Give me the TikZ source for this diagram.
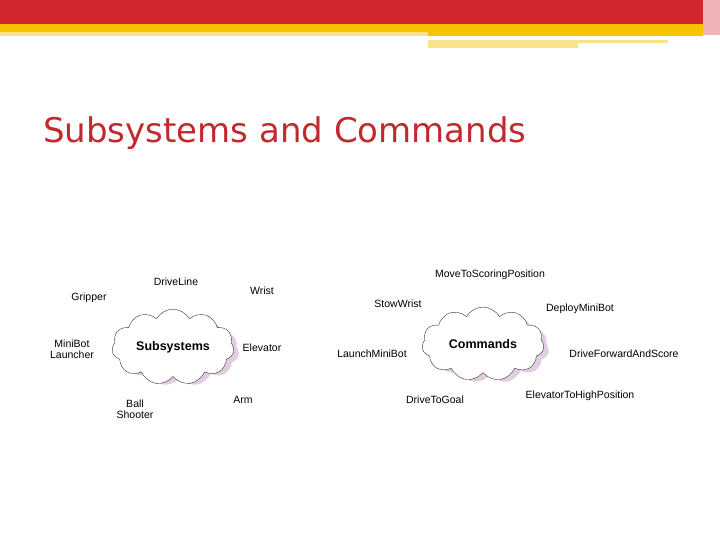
\documentclass[tikz,border=0pt]{standalone}
\usepackage{fontspec}
\setmainfont{Liberation Sans}
\newfontfamily\titlefont{DejaVu Sans}
\usetikzlibrary{shapes.symbols}
\definecolor{barred}{RGB}{210,40,45}
\definecolor{titlered}{RGB}{195,40,45}
\definecolor{baryel}{RGB}{245,195,0}
\definecolor{barlite}{RGB}{250,225,140}
\definecolor{shade}{RGB}{225,205,225}
\begin{document}
\begin{tikzpicture}[
      x=1pt, y=-1pt,
      nodes={font=\fontsize{10.5}{11.5}\selectfont, align=center, inner sep=0pt},
      puff/.style={cloud, cloud puffs=11, cloud puff arc=120, aspect=1.7,
        draw=black!80, thin, fill=white, minimum width=122pt, minimum height=74pt,
        font=\bfseries\fontsize{12.5}{15}\selectfont},
      puffshade/.style={cloud, cloud puffs=11, cloud puff arc=120, aspect=1.7,
        fill=shade, minimum width=118pt, minimum height=70pt}
      ]
  \useasboundingbox (0,0) rectangle (720,540);
  % header bars
  \fill[barred] (0,0) rectangle (703,24);
  \fill[barred!35] (703,0) rectangle (720,35);
  \fill[baryel] (0,24) rectangle (703,32);
  \fill[baryel] (428,32) rectangle (703,36);
  \fill[barlite] (0,32) rectangle (428,36);
  \fill[barlite] (428,40) rectangle (668,43);
  \fill[barlite] (428,43) rectangle (578,48);

  \node[anchor=west, text=titlered, font=\titlefont\fontsize{34}{38}\selectfont] (title) at (43,133) {Subsystems and Commands};

  % subsystems
  \node[puffshade] (sSh) at (180,351) {};
  \node[puff] (cSub) at (173,347) {Subsystems};
  \node (gripper) at (89,298) {Gripper};
  \node (driveline) at (176,282) {DriveLine};
  \node (wrist) at (262,291) {Wrist};
  \node (minibot) at (72,349) {MiniBot\\Launcher};
  \node (elevator) at (262,348) {Elevator};
  \node (ball) at (135,409) {Ball\\Shooter};
  \node (arm) at (243,400) {Arm};

  % commands
  \node[puffshade] (cSh) at (490,348) {};
  \node[puff] (cCmd) at (483,344) {Commands};
  \node (move) at (490,275) {MoveToScoringPosition};
  \node (stow) at (398,304) {StowWrist};
  \node (deploy) at (580,309) {DeployMiniBot};
  \node (launch) at (372,354) {LaunchMiniBot};
  \node (forward) at (624,354) {DriveForwardAndScore};
  \node (goal) at (435,400) {DriveToGoal};
  \node (elevhigh) at (580,396) {ElevatorToHighPosition};
\end{tikzpicture}
\end{document}
